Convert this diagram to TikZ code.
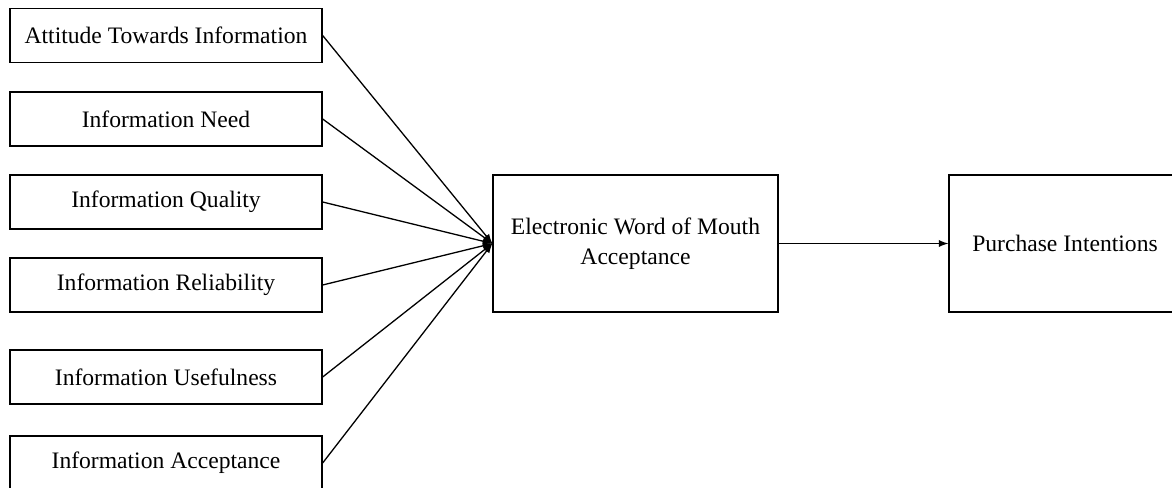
\documentclass[tikz,border=0pt]{standalone}
\usepackage{fontspec}
\setmainfont{Liberation Serif}
\pgfdeclarelayer{edgelayer}
\pgfdeclarelayer{nodelayer}
\pgfsetlayers{edgelayer,nodelayer,main}
\tikzstyle{none}=[inner sep=0pt]
\tikzstyle{edge}=[draw=black, line width=0.65pt, -latex]
\tikzstyle{factor}=[rectangle, fill=white, draw=black, line width=0.65pt, minimum width=156pt, minimum height=27pt, font=\fontsize{11.8}{15}\selectfont]
\tikzstyle{construct}=[rectangle, fill=white, draw=black, line width=0.65pt, minimum height=68.5pt, align=center, font=\fontsize{11.8}{15}\selectfont]

\begin{document}
\begin{tikzpicture}[x=0.5pt, y=-0.5pt]
			\useasboundingbox (0, 0) rectangle (1172, 487);
			\begin{pgfonlayer}{nodelayer}
			\node [style=factor] (0) at (166, 35.5) {Attitude Towards Information};
			\node [style=factor] (1) at (166, 119) {Information Need};
			\node [style=factor] (2) at (166, 202) {Information Quality};
			\node [style=factor] (3) at (166, 285) {Information Reliability};
			\node [style=factor] (4) at (166, 377) {Information Usefulness};
			\node [style=factor] (5) at (166, 463) {Information Acceptance};
			\node [style=construct, minimum width=142.5pt] (6) at (635.5, 243.5) {Electronic Word of Mouth\\Acceptance};
			\node [style=construct, minimum width=116pt] (7) at (1065, 243.5) {Purchase Intentions};
			\end{pgfonlayer}
			\begin{pgfonlayer}{edgelayer}
			\draw [style=edge] (0.east) to (6.west);
			\draw [style=edge] (1.east) to (6.west);
			\draw [style=edge] (2.east) to (6.west);
			\draw [style=edge] (3.east) to (6.west);
			\draw [style=edge] (4.east) to (6.west);
			\draw [style=edge] (5.east) to (6.west);
			\draw [style=edge] (6) to (7);
			\end{pgfonlayer}
\end{tikzpicture}
\end{document}
